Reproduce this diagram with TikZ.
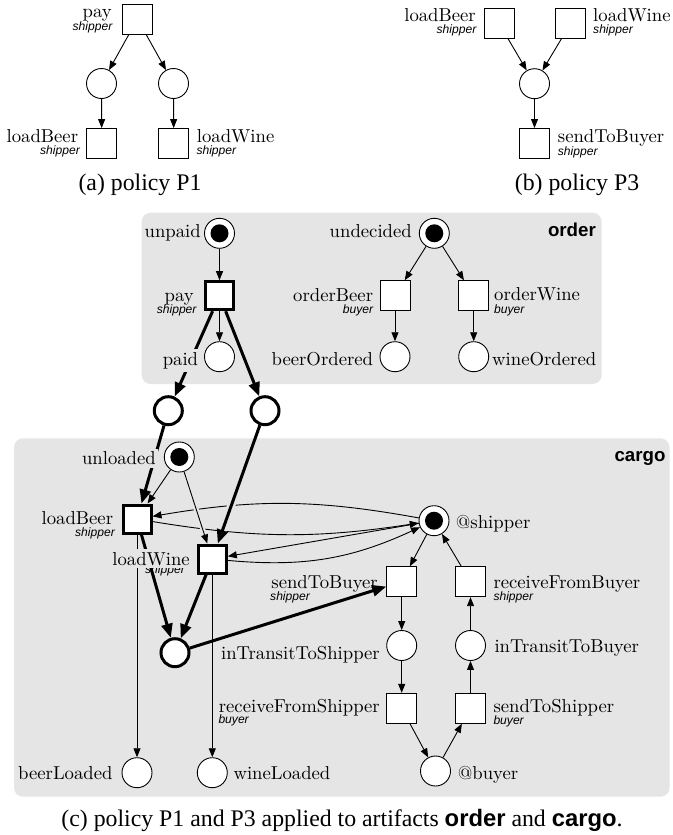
\documentclass[tikz,border=0pt]{standalone}
\usepackage{fontspec}
\usepackage{graphicx}
\usetikzlibrary{arrows.meta,calc}
\newfontfamily\helv{Liberation Sans}
\newfontfamily\capserif{Liberation Serif}
\definecolor{boxgray}{HTML}{E5E5E5}
% place/transition names: Latin Modern at its 10pt design, enlarged
\newcommand{\nm}[1]{\scalebox{1.87}{\fontsize{10}{12}\selectfont #1}}
% roles under transition names
\newcommand{\rl}[1]{{\helv\itshape\fontsize{12.1}{14}\selectfont #1}}
% artifact titles
\newcommand{\art}[1]{{\helv\bfseries\fontsize{18.7}{22}\selectfont #1}}
\newcommand{\capf}{\capserif\fontsize{23.8}{28}\selectfont}

\begin{document}
\begin{tikzpicture}[x=1pt,y=-1pt,
  place/.style={circle,draw,fill=white,line width=0.9pt,minimum size=30pt,inner sep=0pt},
  bigplace/.style={place,line width=3pt,minimum size=28pt},
  trans/.style={rectangle,draw,fill=white,line width=0.9pt,minimum size=30pt,inner sep=0pt},
  bigtrans/.style={trans,line width=3pt,minimum size=28pt},
  marked/.style={path picture={\fill[black] (path picture bounding box.center) circle[radius=9pt];}},
  arc/.style={line width=0.9pt,-{Triangle[length=9pt,width=7pt]}},
  bigarc/.style={line width=3pt,-{Triangle[length=14pt,width=11pt]}},
  lbl/.style={inner sep=0pt},
  cover/.style={fill=boxgray,inner xsep=2pt,inner ysep=3pt},
  halo/.style={draw=boxgray,line width=#1},
  artbox/.style={fill=boxgray,rounded corners=9pt},
]
\useasboundingbox (0,0) rectangle (672,835);

% ---------- (a) policy P1 ----------
\node[trans] (apay) at (137.5,19) {};
\node[place] (ap1) at (101.5,83.5) {};
\node[place] (ap2) at (173.5,83.5) {};
\node[trans] (alb) at (101.7,143.5) {};
\node[trans] (alw) at (173.7,143.5) {};
\draw[arc] (apay) -- (ap1);
\draw[arc] (apay) -- (ap2);
\draw[arc] (ap1) -- (alb);
\draw[arc] (ap2) -- (alw);
\node[lbl,anchor=base east] (apayn) at (112,17) {\nm{pay}};
\node[lbl,anchor=base east] (apayr) at (112.5,30) {\rl{shipper}};
\node[lbl,anchor=base east] (albn) at (78.3,142.2) {\nm{loadBeer}};
\node[lbl,anchor=base east] (albr) at (80,154.2) {\rl{shipper}};
\node[lbl,anchor=base west] (alwn) at (196.7,142.2) {\nm{loadWine}};
\node[lbl,anchor=base west] (alwr) at (196.3,154.2) {\rl{shipper}};
\node[lbl,anchor=base] (acap) at (140,190) {\capf (a) policy P1};

% ---------- (b) policy P3 ----------
\node[trans] (blb) at (499,23.3) {};
\node[trans] (blw) at (570.7,23.3) {};
\node[place] (bp) at (534.5,83.7) {};
\node[trans] (bsb) at (534.5,143.5) {};
\draw[arc] (blb) -- (bp);
\draw[arc] (blw) -- (bp);
\draw[arc] (bp) -- (bsb);
\node[lbl,anchor=base east] (blbn) at (476,21.2) {\nm{loadBeer}};
\node[lbl,anchor=base east] (blbr) at (476.5,33.2) {\rl{shipper}};
\node[lbl,anchor=base west] (blwn) at (593,21.2) {\nm{loadWine}};
\node[lbl,anchor=base west] (blwr) at (593,33.2) {\rl{shipper}};
\node[lbl,anchor=base west] (bsbn) at (557.7,142.7) {\nm{sendToBuyer}};
\node[lbl,anchor=base west] (bsbr) at (557.7,155) {\rl{shipper}};
\node[lbl,anchor=base] (bcap) at (577,190) {\capf (b) policy P3};

% ---------- (c) artifact boxes ----------
\fill[artbox] (141.7,212.7) rectangle (601.7,384);
\fill[artbox] (14,438.3) rectangle (669.5,796.7);
\node[lbl,anchor=base east] (ordt) at (596,236) {\art{order}};
\node[lbl,anchor=base east] (cart) at (665.7,461) {\art{cargo}};

% order
\node[place,marked] (unpaid) at (219.5,233.3) {};
\node[bigtrans] (cpay) at (219.5,295.7) {};
\node[place] (paid) at (219.5,356.7) {};
\node[place,marked] (undec) at (434.3,233.3) {};
\node[trans] (obeer) at (395,295.7) {};
\node[trans] (owine) at (473.7,295.7) {};
\node[place] (bord) at (395,356.7) {};
\node[place] (word) at (473.7,356.7) {};

% places added by the policies
\node[bigplace] (pl) at (168.3,410.7) {};
\node[bigplace] (pr) at (265,410.7) {};
\node[bigplace] (pt) at (175,652.7) {};

% cargo
\node[place,marked] (unl) at (179.3,457) {};
\node[bigtrans] (clb) at (137,519) {};
\node[bigtrans] (clw) at (212.3,559) {};
\node[place,marked] (ship) at (434,520.7) {};
\node[trans] (stb) at (401.7,581.7) {};
\node[trans] (rfb) at (470.5,581.7) {};
\node[place] (itts) at (401.7,645.5) {};
\node[place] (ittb) at (470.5,645.5) {};
\node[trans] (rfs) at (401.7,708.3) {};
\node[trans] (sts) at (470.5,708.3) {};
\node[place] (atb) at (435.5,771) {};
\node[place] (bld) at (137,772.7) {};
\node[place] (wld) at (212.3,772.7) {};

% arcs of order
\draw[arc] (unpaid) -- (cpay);
\draw[arc] (cpay) -- (paid);
\draw[arc] (undec) -- (obeer);
\draw[arc] (undec) -- (owine);
\draw[arc] (obeer) -- (bord);
\draw[arc] (owine) -- (word);

% arcs between @shipper and the loading steps
\draw[arc] (ship) to[bend right=10] (clb);
\draw[arc] (clb) to[bend right=9] (ship);
\draw[arc] (ship) -- (clw);
\draw[arc] (clw) to[bend right=15] (ship);

% gaps where arcs pass over the curves
\path[halo=5pt] ($(unl)!0.38!(clw)$) -- ($(unl)!0.78!(clw)$);
\path[halo=8pt] ($(pr)!0.35!(clw)$) -- ($(pr)!0.85!(clw)$);

% arcs of cargo
\draw[arc] (unl) -- (clb);
\draw[arc] (unl) -- (clw);
\draw[arc] (clb) -- (bld);
\draw[arc] (clw) -- (wld);
\draw[arc] (ship) -- (stb);
\draw[arc] (rfb) -- (ship);
\draw[arc] (stb) -- (itts);
\draw[arc] (itts) -- (rfs);
\draw[arc] (rfs) -- (atb);
\draw[arc] (atb) -- (sts);
\draw[arc] (sts) -- (ittb);
\draw[arc] (ittb) -- (rfb);

% policy arcs
\draw[bigarc] (cpay) -- (pl);
\draw[bigarc] (cpay) -- (pr);
\draw[bigarc] (pl) -- (clb);
\draw[bigarc] (pr) -- (clw);
\draw[bigarc] (clb) -- (pt);
\draw[bigarc] (clw) -- (pt);
\draw[bigarc] (pt) -- (stb);

% labels of order
\node[lbl,anchor=base east] (unpaidn) at (201,237.5) {\nm{unpaid}};
\node[lbl,anchor=base east] (cpayr) at (196.7,313) {\rl{shipper}};
\node[lbl,anchor=base east] (cpayn) at (194,301.7) {\nm{pay}};
\node[lbl,cover,anchor=base east] (paidn) at (200.3,365) {\nm{paid}};
\node[lbl,anchor=base east] (undecn) at (412,237.5) {\nm{undecided}};
\node[lbl,anchor=base east] (obeern) at (373.3,301.7) {\nm{orderBeer}};
\node[lbl,anchor=base east] (obeerr) at (373.3,313) {\rl{buyer}};
\node[lbl,anchor=base west] (ownen) at (494,300.7) {\nm{orderWine}};
\node[lbl,anchor=base west] (owiner) at (494,313) {\rl{buyer}};
\node[lbl,anchor=base east] (bordn) at (373.3,365) {\nm{beerOrdered}};
\node[lbl,anchor=base west] (wordn) at (492,365) {\nm{wineOrdered}};

% labels of cargo
\node[lbl,cover,anchor=base east] (unln) at (158,464.5) {\nm{unloaded}};
\node[lbl,anchor=base east] (clbn) at (113.3,524) {\nm{loadBeer}};
\node[lbl,anchor=base east] (clbr) at (115,536.7) {\rl{shipper}};
\node[lbl,anchor=base east] (clwr) at (185,573.5) {\rl{shipper}};
\node[lbl,cover,anchor=base east] (clwn) at (192,565) {\nm{loadWine}};
\node[lbl,anchor=base west] (shipn) at (455.7,528) {\nm{@shipper}};
\node[lbl,anchor=base east] (stbn) at (378,588) {\nm{sendToBuyer}};
\node[lbl,anchor=base west] (stbr) at (270,600) {\rl{shipper}};
\node[lbl,anchor=base west] (rfbn) at (493.3,588) {\nm{receiveFromBuyer}};
\node[lbl,anchor=base west] (rfbr) at (493.3,600) {\rl{shipper}};
\node[lbl,anchor=base east] (ittsn) at (380,659) {\nm{inTransitToShipper}};
\node[lbl,anchor=base west] (ittbn) at (494.3,652) {\nm{inTransitToBuyer}};
\node[lbl,anchor=base east] (rfsn) at (380,712.5) {\nm{receiveFromShipper}};
\node[lbl,anchor=base west] (rfsr) at (218.3,723.5) {\rl{buyer}};
\node[lbl,anchor=base west] (stsn) at (493.3,712.5) {\nm{sendToShipper}};
\node[lbl,anchor=base west] (stsr) at (493.3,724.5) {\rl{buyer}};
\node[lbl,anchor=base west] (atbn) at (457.7,779) {\nm{@buyer}};
\node[lbl,anchor=base east] (bldn) at (112.7,779) {\nm{beerLoaded}};
\node[lbl,anchor=base west] (wldn) at (233.3,779) {\nm{wineLoaded}};

\node[lbl,anchor=base] (ccap) at (342,826.5) {\capf (c) policy P1 and P3 applied to artifacts {\helv\bfseries order} and {\helv\bfseries cargo}.};
\end{tikzpicture}
\end{document}
